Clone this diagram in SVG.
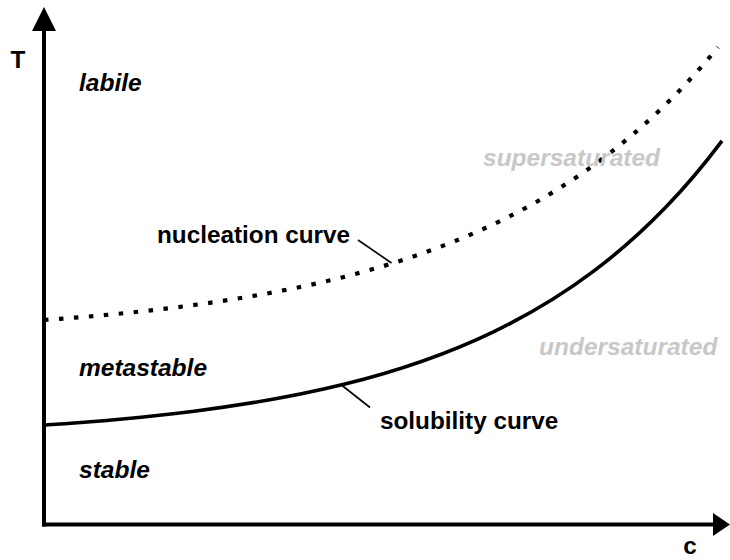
<svg xmlns="http://www.w3.org/2000/svg" width="730" height="560" viewBox="0 0 730 560">
  <style>
    .lbl { font-family: "Liberation Sans", Arial, sans-serif; font-weight: bold; font-size: 24.3px; fill: #000; }
    .region { font-family: "Liberation Sans", Arial, sans-serif; font-weight: bold; font-style: italic; font-size: 24.5px; fill: #000; }
    .faint { fill: #c8c8c8; }
    .axis { stroke: #000; stroke-width: 4; fill: none; }
    .leader { stroke: #000; stroke-width: 1.6; fill: none; }
  </style>
  <rect width="730" height="560" fill="#fff"/>

  <!-- axes -->
  <g id="axes">
    <line class="axis" x1="44" y1="28" x2="44" y2="526.5"/>
    <line class="axis" x1="42" y1="524.5" x2="716" y2="524.5"/>
    <polygon points="44,7 32,31 56,31" fill="#000"/>
    <polygon points="730,524.5 713,513 713,536" fill="#000"/>
    <text class="lbl" x="18" y="68" text-anchor="middle" font-size="27">T</text>
    <text class="lbl" x="690" y="554" text-anchor="middle" font-size="23">c</text>
  </g>

  <!-- curves (exponential-shaped, drawn as Hermite segments) -->
  <g id="curves">
    <path id="nucleation" fill="none" stroke="#000" stroke-width="4.2" stroke-dasharray="4.5 10.5"
      d="M44,320 C110.7,315.2 177.3,308.6 244,297.5 C310.7,286.4 377.3,271.1 444,245.4 C484,230 524,210.8 564,185.3 C594,166.2 624,143.5 654,115.6 C675.3,95.8 696.7,73.2 718,47.2"/>
    <path id="solubility" fill="none" stroke="#000" stroke-width="3.6"
      d="M44,425 C94,421.8 144,417.5 194,411.2 C244,404.9 294,396.6 344,384.3 C394,372 444,355.7 494,331.6 C527.3,315.5 560.7,296 594,270.9 C617.3,253.3 640.7,233 664,209 C683.3,189.1 702.7,166.6 722,140.8"/>
  </g>

  <!-- leader lines -->
  <g id="leaders">
    <line class="leader" x1="358" y1="240" x2="391.5" y2="263"/>
    <line class="leader" x1="341.5" y1="385" x2="370" y2="407.5"/>
  </g>

  <!-- curve labels -->
  <g id="label-nucleation">
    <text class="lbl" x="157" y="243">nucleation curve</text>
  </g>
  <g id="label-solubility">
    <text class="lbl" x="380" y="429">solubility curve</text>
  </g>

  <!-- region labels -->
  <g id="region-labile"><text class="region" x="79" y="91">labile</text></g>
  <g id="region-metastable"><text class="region" x="79" y="376">metastable</text></g>
  <g id="region-stable"><text class="region" x="79" y="478">stable</text></g>
  <g id="region-supersaturated"><text class="region faint" x="483" y="166">supersaturated</text></g>
  <g id="region-undersaturated"><text class="region faint" x="539" y="355">undersaturated</text></g>
</svg>
